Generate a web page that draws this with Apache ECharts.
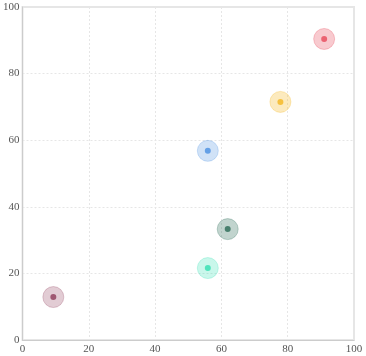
<!DOCTYPE html>
<html>
<head>
<meta charset="utf-8">
<script src="https://cdn.jsdelivr.net/npm/echarts@6/dist/echarts.min.js"></script>
<style>
  html, body { margin: 0; padding: 0; background: #fff; }
  #chart { width: 366px; height: 356px; }
</style>
</head>
<body>
<div id="chart"></div>
<script>
const xValues = [9.3, 55.9, 61.9, 55.9, 77.8, 91.0];
const yValues = [12.9, 21.6, 33.3, 56.8, 71.5, 90.4];
const dotColors = ['#8e3b5a', '#2fe0b0', '#2a6a55', '#4a90e2', '#f5b820', '#e8485a'];
const haloColors = ['rgba(142,59,90,0.32)', 'rgba(47,224,176,0.32)', 'rgba(42,106,85,0.36)',
  'rgba(74,144,226,0.32)', 'rgba(245,184,32,0.36)', 'rgba(232,72,90,0.36)'];

const chart = echarts.init(document.getElementById('chart'));

const series = [];
xValues.forEach((x, i) => {
  series.push({
    type: 'scatter',
    data: [[x, yValues[i]]],
    symbolSize: 21,
    silent: true,
    itemStyle: { color: haloColors[i], borderColor: haloColors[i], borderWidth: 1 }
  });
  series.push({
    type: 'scatter',
    data: [[x, yValues[i]]],
    symbolSize: 6,
    itemStyle: { color: dotColors[i] }
  });
});

const labelStyle = { color: '#555', fontFamily: 'Liberation Serif, serif', fontSize: 11 };

chart.setOption({
  animation: false,
  grid: {
    left: 21, right: 12, top: 7, bottom: 16,
    show: true, borderColor: '#e6e6e6', borderWidth: 2
  },
  xAxis: {
    type: 'value', min: 0, max: 100, interval: 20,
    axisLine: { show: true, lineStyle: { color: '#cccccc' } },
    axisTick: { show: false },
    splitLine: { lineStyle: { color: '#e6e6e6', type: [2, 2] } },
    axisLabel: Object.assign({ margin: 4 }, labelStyle)
  },
  yAxis: {
    type: 'value', min: 0, max: 100, interval: 20,
    axisLine: { show: true, lineStyle: { color: '#cccccc' } },
    axisTick: { show: false },
    splitLine: { lineStyle: { color: '#e6e6e6', type: [2, 2] } },
    axisLabel: Object.assign({ margin: 3 }, labelStyle)
  },
  series: series
});
</script>
</body>
</html>
